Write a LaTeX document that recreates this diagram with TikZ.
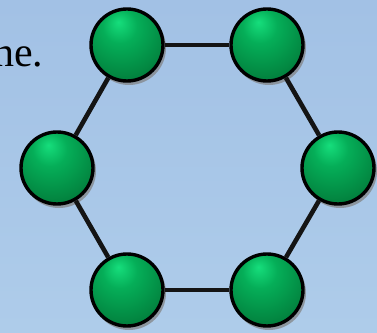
\documentclass[tikz,border=0pt]{standalone}
\usepackage{fontspec}
\setmainfont{Liberation Serif}
\definecolor{bgtop}{HTML}{A2C1E5}
\definecolor{bgbot}{HTML}{AECCEA}
\definecolor{gA}{HTML}{16DE7C}
\definecolor{gB}{HTML}{05AE58}
\definecolor{gC}{HTML}{027E3C}
\definecolor{gD}{HTML}{013E1C}
\pgfdeclareradialshading{greenball}{\pgfpoint{-6bp}{16bp}}{color(0bp)=(gA); color(12bp)=(gB); color(34bp)=(gC); color(52bp)=(gD); color(70bp)=(gD)}
\tikzset{
  ball/.style={circle, minimum size=72pt, inner sep=0pt, draw=black, line width=3.4pt, shading=greenball},
  ballshadow/.style={draw=black!50, line width=3pt, opacity=0.7},
  link/.style={line width=4.6pt, draw=black!92}
}
\begin{document}
\begin{tikzpicture}[x=1pt,y=1pt]
\shade[top color=bgtop, bottom color=bgbot] (0,0) rectangle (377,332);
\useasboundingbox (0,0) rectangle (377,332);
\node[anchor=base west, inner sep=0pt, font=\fontsize{42}{48}\selectfont] (txt) at (-7,265) {ne.};
% shadows
\foreach \x/\y in {127/287, 267/287, 57/164, 338/164, 127/42, 267/42}
  \draw[ballshadow] (\x+2,\y-3) circle (35.5);
\node[ball] (tl) at (127,287) {};
\node[ball] (tr) at (267,287) {};
\node[ball] (ml) at (57,164) {};
\node[ball] (mr) at (338,164) {};
\node[ball] (bl) at (127,42) {};
\node[ball] (br) at (267,42) {};
\draw[link] (tl) -- (tr);
\draw[link] (tr) -- (mr);
\draw[link] (mr) -- (br);
\draw[link] (br) -- (bl);
\draw[link] (bl) -- (ml);
\draw[link] (ml) -- (tl);
\end{tikzpicture}
\end{document}
